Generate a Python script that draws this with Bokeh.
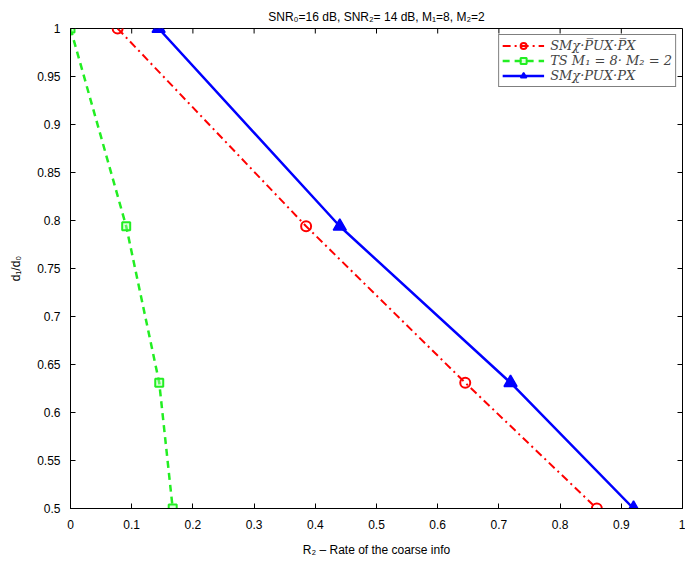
import math
from bokeh.plotting import figure
from bokeh.models import FixedTicker, Legend, LegendItem, Range1d
from bokeh.embed import file_html
from bokeh.resources import INLINE

# Data
red_x = [0.077, 0.385, 0.645, 0.86]
red_y = [1.0, 0.794, 0.631, 0.5]
green_x = [0.0, 0.091, 0.145, 0.167]
green_y = [1.0, 0.794, 0.631, 0.5]
blue_x = [0.144, 0.44, 0.719, 0.92]
blue_y = [1.0, 0.794, 0.631, 0.5]

x_ticks = [0, 0.1, 0.2, 0.3, 0.4, 0.5, 0.6, 0.7, 0.8, 0.9, 1.0]
x_tick_labels = ["0", "0.1", "0.2", "0.3", "0.4", "0.5", "0.6", "0.7", "0.8", "0.9", "1"]
y_ticks = [0.5, 0.55, 0.6, 0.65, 0.7, 0.75, 0.8, 0.85, 0.9, 0.95, 1.0]
y_tick_labels = ["0.5", "0.55", "0.6", "0.65", "0.7", "0.75", "0.8", "0.85", "0.9", "0.95", "1"]

labels = ["SM\u03c7\u00b7P\u0305UX\u00b7P\u0305X", "TS M\u2081 = 8\u00b7 M\u2082 = 2", "SM\u03c7\u00b7PUX\u00b7PX"]

FONT = "Liberation Sans"

p = figure(width=685, height=564, output_backend="svg", toolbar_location=None,
           x_range=Range1d(x_ticks[0], x_ticks[-1]), y_range=Range1d(y_ticks[0], y_ticks[-1]),
           min_border_left=70, min_border_right=3, min_border_top=28, min_border_bottom=56,
           title="SNR\u2080=16 dB, SNR\u2082= 14 dB, M\u2081=8, M\u2082=2")
p.title.align = "center"
p.title.text_font = FONT
p.title.text_font_style = "normal"
p.title.text_font_size = "12px"
p.title.text_color = "black"
p.grid.visible = False
p.outline_line_color = "black"
p.outline_line_width = 1

for ax in p.xaxis:
    ax.ticker = FixedTicker(ticks=x_ticks)
    ax.major_label_overrides = {t: l for t, l in zip(x_ticks, x_tick_labels)}
    ax.axis_label = "R\u2082 \u2013 Rate of the coarse info"
    ax.major_label_standoff = 11
    ax.axis_label_standoff = 11
for ax in p.yaxis:
    ax.ticker = FixedTicker(ticks=y_ticks)
    ax.major_label_standoff = 10
    ax.major_label_overrides = {t: l for t, l in zip(y_ticks, y_tick_labels)}
    ax.axis_label = "d\u2081/d\u2080"
    ax.axis_label_standoff = 11

for ax in list(p.xaxis) + list(p.yaxis):
    ax.major_tick_in = 5
    ax.major_tick_out = 0
    ax.minor_tick_in = 0
    ax.minor_tick_out = 0
    ax.axis_line_color = "black"
    ax.major_tick_line_color = "black"
    ax.major_label_text_font = FONT
    ax.major_label_text_font_size = "12px"
    ax.major_label_text_color = "black"
    ax.axis_label_text_font = FONT
    ax.axis_label_text_font_size = "12px"
    ax.axis_label_text_font_style = "normal"
    ax.axis_label_text_color = "black"

# mirrored inward ticks on top and right edges
p.ray(x=x_ticks, y=[y_ticks[-1]] * len(x_ticks), length=5, length_units="screen",
      angle=-math.pi / 2, line_color="black", line_width=1)
p.ray(x=[x_ticks[-1]] * len(y_ticks), y=y_ticks, length=5, length_units="screen",
      angle=math.pi, line_color="black", line_width=1)

r1 = p.line(red_x, red_y, line_color="#ff0000", line_width=2, line_dash="8 4 2 4")
m1 = p.scatter(red_x, red_y, marker="circle", size=10, line_color="#ff0000", line_width=2,
               fill_color="white", fill_alpha=0)
r2 = p.line(green_x, green_y, line_color="#22ee22", line_width=2.5, line_dash="7 5")
m2 = p.scatter(green_x, green_y, marker="square", size=8, line_color="#22ee22", line_width=2,
               fill_color="#aaffaa", fill_alpha=0.4)
r3 = p.line(blue_x, blue_y, line_color="#0000ff", line_width=2.5)
m3 = p.scatter(blue_x, blue_y, marker="triangle", size=13, line_color="#0000ff", line_width=1.5,
               fill_color="#0000ff")

legend = Legend(items=[LegendItem(label=labels[0], renderers=[r1, m1]),
                       LegendItem(label=labels[1], renderers=[r2, m2]),
                       LegendItem(label=labels[2], renderers=[r3, m3])],
                location="top_right", border_line_color="black", border_line_width=1,
                label_text_font="DejaVu Serif", label_text_font_style="italic",
                label_text_font_size="13px", glyph_width=42, glyph_height=15,
                spacing=0, padding=3, margin=6, label_height=15, label_standoff=6,
                background_fill_alpha=1)
p.add_layout(legend)

open("out.html", "w").write(file_html(p, INLINE))
